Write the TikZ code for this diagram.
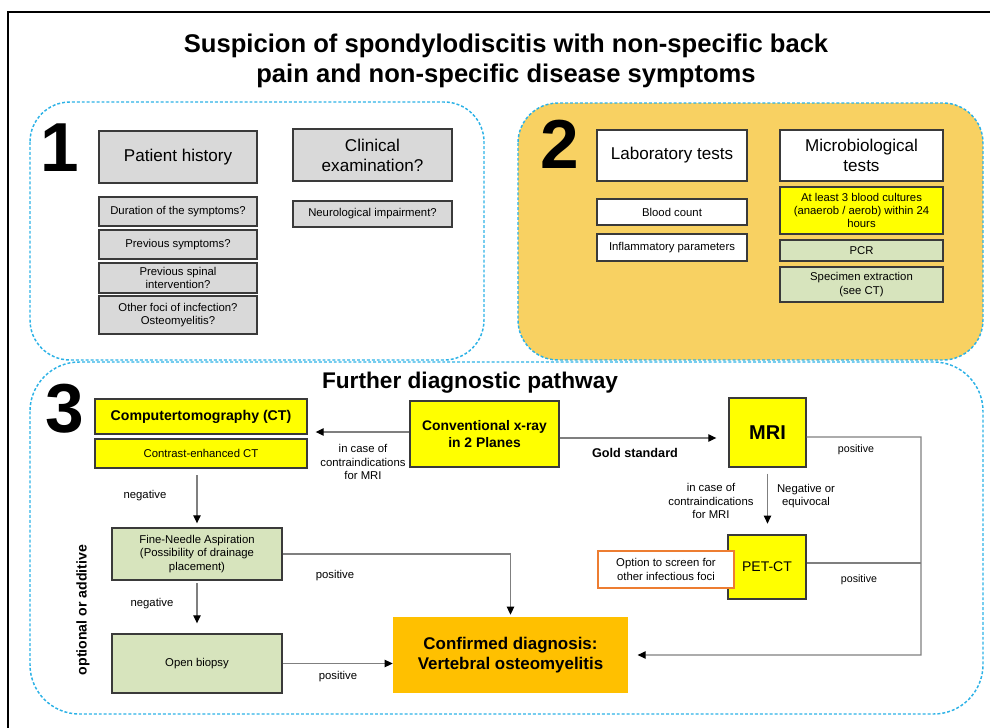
\documentclass[tikz,border=0pt]{standalone}
\usepackage{fontspec}
\setmainfont{Liberation Sans}
\usetikzlibrary{arrows.meta}
\definecolor{panelblue}{HTML}{2DB2E6}
\definecolor{panelgold}{HTML}{F8D162}
\definecolor{boxgray}{HTML}{D9D9D9}
\definecolor{boxedge}{HTML}{3A3A3A}
\definecolor{boxyellow}{HTML}{FFFF00}
\definecolor{boxgreen}{HTML}{D7E4BD}
\definecolor{confirmorange}{HTML}{FFC000}
\definecolor{optorange}{HTML}{ED7D31}
\definecolor{arrowgray}{HTML}{7F7F7F}
\newcommand{\fsz}[2]{\fontsize{#1}{#2}\selectfont}

\begin{document}
\begin{tikzpicture}[x=0.75pt,y=-0.75pt,
	panel/.style={draw=panelblue,line width=1.1pt,dash pattern=on 2.2pt off 1.5pt,rounded corners=30pt},
	box/.style={draw=boxedge,line width=1pt,align=center,inner sep=1pt,font=\fsz{8.5}{10}},
	headbox/.style={box,font=\fsz{12.8}{15}},
	bignum/.style={font=\fsz{52}{52}\bfseries,inner sep=0pt},
	flow/.style={draw=arrowgray,line width=0.9pt,-{Triangle[length=6pt,width=5.5pt,black]}},
	lbl/.style={align=center,font=\fsz{8.5}{10}}]
	\useasboundingbox (0,0) rectangle (990,728);
	\draw[line width=1.2pt] (8,728) -- (8,12) -- (990,12);
	\node[font=\fsz{19.2}{22.5}\bfseries,align=center] (title) at (506,61)
	{Suspicion of spondylodiscitis with non-specific back\\pain and non-specific disease symptoms};
	
	% 1
	\draw[panel] (30,102) rectangle (484,360);
	\node[bignum] (one) at (60,148) {1};
	\node[headbox,fill=boxgray,minimum width=118.5pt,minimum height=39pt] (hist) at (178,157) {Patient history};
	\node[headbox,fill=boxgray,minimum width=119.25pt,minimum height=39pt] (clin) at (372.5,155) {Clinical\\examination?};
	\node[box,fill=boxgray,minimum width=118.5pt,minimum height=21.75pt] (dur) at (178,211.5) {Duration of the symptoms?};
	\node[box,fill=boxgray,minimum width=118.5pt,minimum height=21.75pt] (prev) at (178,244.5) {Previous symptoms?};
	\node[box,fill=boxgray,minimum width=118.5pt,minimum height=22.5pt] (spin) at (178,278) {Previous spinal\\intervention?};
	\node[box,fill=boxgray,minimum width=118.5pt,minimum height=28.5pt] (foci) at (178,315) {Other foci of incfection?\\Osteomyelitis?};
	\node[box,fill=boxgray,minimum width=119.25pt,minimum height=19.5pt] (neuro) at (372.5,214) {Neurological impairment?};
	
	% 2
	\draw[panel,fill=panelgold] (518,103) rectangle (983,360);
	\node[bignum] (two) at (560,144) {2};
	\node[headbox,fill=white,minimum width=112.5pt,minimum height=38.25pt] (lab) at (672,155.5) {Laboratory tests};
	\node[headbox,fill=white,minimum width=122.25pt,minimum height=38.25pt] (micro) at (861.5,155.5) {Microbiological\\tests};
	\node[box,fill=white,minimum width=112.5pt,minimum height=19.5pt] (blood) at (672,212) {Blood count};
	\node[box,fill=white,minimum width=112.5pt,minimum height=20.25pt] (infl) at (672,247.5) {Inflammatory parameters};
	\node[box,fill=boxyellow,minimum width=122.25pt,minimum height=35.25pt] (cult) at (861.5,210.5) {At least 3 blood cultures\\(anaerob / aerob) within 24\\hours};
	\node[box,fill=boxgreen,minimum width=122.25pt,minimum height=15.75pt] (pcr) at (861.5,250.5) {PCR};
	\node[box,fill=boxgreen,minimum width=122.25pt,minimum height=26.25pt] (spec) at (861.5,284.5) {Specimen extraction\\(see CT)};
	
	% 3
	\draw[panel,rounded corners=37pt] (30,362) rectangle (983,714);
	\node[bignum] (three) at (65,409) {3};
	\node[font=\fsz{17}{20}\bfseries] (further) at (470,383) {Further diagnostic pathway};
	\node[box,fill=boxyellow,font=\fsz{10.6}{12.5}\bfseries,minimum width=159pt,minimum height=26.25pt] (ct) at (201,416.5) {Computertomography (CT)};
	\node[box,fill=boxyellow,minimum width=159pt,minimum height=21.75pt] (cect) at (201,453.5) {Contrast-enhanced CT};
	\node[box,fill=boxyellow,font=\fsz{10.4}{12.5}\bfseries,minimum width=111.75pt,minimum height=49.5pt] (xray) at (484.5,434) {Conventional x-ray\\in 2 Planes};
	\node[box,fill=boxyellow,font=\fsz{15}{18}\bfseries,minimum width=57.75pt,minimum height=51.75pt] (mri) at (767.5,432.5) {MRI};
	\node[box,fill=boxyellow,font=\fsz{10.5}{12.5},minimum width=58.5pt,minimum height=48pt] (pet) at (767,567) {PET-CT};
	\node[box,draw=optorange,fill=white,minimum width=102pt,minimum height=27.75pt] (opt) at (666,569.5) {Option to screen for\\other infectious foci};
	\node[box,fill=boxgreen,minimum width=127.5pt,minimum height=39pt] (fna) at (197,554) {Fine-Needle Aspiration\\(Possibility of drainage\\placement)};
	\node[box,fill=boxgreen,minimum width=127.5pt,minimum height=44.25pt] (biop) at (197,663.5) {Open biopsy};
	\node[fill=confirmorange,align=center,font=\fsz{12.7}{15}\bfseries,minimum width=176.25pt,minimum height=57pt] (conf) at (510.5,655) {Confirmed diagnosis:\\Vertebral osteomyelitis};
	\node[rotate=90,font=\fsz{10.6}{12.5}\bfseries] (optadd) at (83,610) {optional or additive};
	\coordinate (rail) at (921,437);
	
	\draw[flow,shorten >=6pt] ([yshift=1.5pt]xray.west) -- ([yshift=1.5pt]xray.west -| ct.east);
	\draw[flow,shorten >=9pt] ([yshift=-3pt]xray.east) -- ([yshift=-3pt]xray.east -| mri.west);
	\draw[flow,shorten <=4.5pt,shorten >=8pt] (mri.south) -- (mri.south |- pet.north);
	\draw[flow,shorten <=5pt,shorten >=3pt] (cect.south -| fna.north) -- (fna.north);
	\draw[flow,shorten <=2pt,shorten >=7.5pt] (fna.south) -- (biop.north);
	\draw[flow,shorten >=1.5pt] (fna.east) -| (conf.north);
	\draw[flow] (biop.east) -- (biop.east -| conf.west);
	\draw[flow,shorten >=7pt] ([yshift=-3.4pt]mri.east) -- (rail) -- (rail |- conf.east) -- (conf.east);
	\draw[draw=arrowgray,line width=0.9pt] ([yshift=3pt]pet.east) -- ([yshift=3pt]pet.east -| rail);
	
	\node[lbl] (ctcase) at (363,462) {in case of\\contraindications\\for MRI};
	\node[font=\fsz{9.5}{11}\bfseries] (gold) at (635,453) {Gold standard};
	\node[lbl] (neg1) at (145,496) {negative};
	\node[lbl] (neg2) at (152,604) {negative};
	\node[lbl] (pos1) at (335,576) {positive};
	\node[lbl] (pos2) at (338,677) {positive};
	\node[lbl] (petcase) at (711,501) {in case of\\contraindications\\for MRI};
	\node[lbl] (equiv) at (806,496) {Negative or\\equivocal};
	\node[lbl,font=\fsz{8}{10}] (pos3) at (856,450) {positive};
	\node[lbl,font=\fsz{8}{10}] (pos4) at (859,580) {positive};
\end{tikzpicture}
\end{document}
